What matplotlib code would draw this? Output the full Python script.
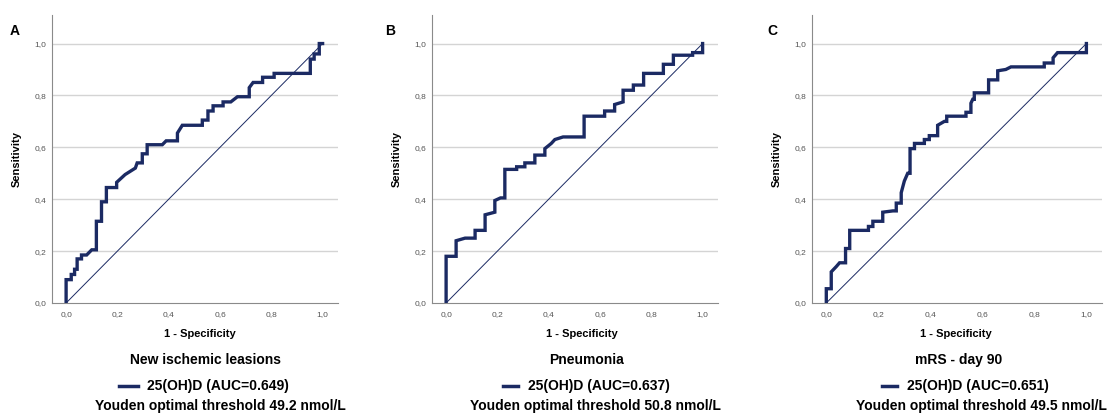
import matplotlib
matplotlib.use("Agg")
import matplotlib.pyplot as plt
from matplotlib.lines import Line2D

plt.rcParams['font.family'] = ['Liberation Sans', 'DejaVu Sans']

# --- data: ROC vertices (1 - specificity, sensitivity) ---
fpr_a = [0, 0, 0.02, 0.02, 0.033, 0.033, 0.043, 0.043, 0.06, 0.06, 0.08, 0.10, 0.118, 0.118,
         0.138, 0.138, 0.157, 0.157, 0.197, 0.197, 0.23, 0.27, 0.277, 0.297, 0.297, 0.316,
         0.316, 0.375, 0.39, 0.434, 0.434, 0.453, 0.531, 0.531, 0.553, 0.553, 0.573, 0.573,
         0.612, 0.612, 0.642, 0.668, 0.714, 0.714, 0.729, 0.766, 0.766, 0.811, 0.811, 0.952,
         0.952, 0.967, 0.967, 0.987, 0.987, 1.0]
tpr_a = [0, 0.09, 0.09, 0.11, 0.11, 0.13, 0.13, 0.17, 0.17, 0.185, 0.185, 0.205, 0.205, 0.315,
         0.315, 0.39, 0.39, 0.445, 0.445, 0.465, 0.495, 0.52, 0.54, 0.54, 0.575, 0.575,
         0.61, 0.61, 0.625, 0.625, 0.655, 0.685, 0.685, 0.705, 0.705, 0.74, 0.74, 0.76,
         0.76, 0.775, 0.775, 0.795, 0.795, 0.83, 0.85, 0.85, 0.87, 0.87, 0.885, 0.885,
         0.94, 0.94, 0.96, 0.96, 1.0, 1.0]

fpr_b = [0, 0, 0.039, 0.039, 0.074, 0.113, 0.113, 0.152, 0.152, 0.19, 0.19, 0.212, 0.229,
         0.229, 0.275, 0.275, 0.307, 0.307, 0.346, 0.346, 0.385, 0.385, 0.41, 0.424, 0.456,
         0.538, 0.538, 0.618, 0.618, 0.657, 0.657, 0.69, 0.69, 0.73, 0.73, 0.77, 0.77,
         0.847, 0.847, 0.886, 0.886, 0.961, 0.961, 1.0, 1.0]
tpr_b = [0, 0.18, 0.18, 0.24, 0.25, 0.25, 0.28, 0.28, 0.34, 0.35, 0.395, 0.405, 0.405,
         0.515, 0.515, 0.525, 0.525, 0.54, 0.54, 0.57, 0.57, 0.595, 0.615, 0.63, 0.64,
         0.64, 0.72, 0.72, 0.74, 0.74, 0.765, 0.775, 0.82, 0.82, 0.84, 0.84, 0.885,
         0.885, 0.92, 0.92, 0.955, 0.955, 0.965, 0.965, 1.0]

fpr_c = [0, 0, 0.019, 0.019, 0.038, 0.051, 0.074, 0.074, 0.09, 0.09, 0.162, 0.162, 0.179,
         0.179, 0.217, 0.217, 0.256, 0.269, 0.269, 0.288, 0.288, 0.3, 0.313, 0.322, 0.322,
         0.339, 0.339, 0.377, 0.377, 0.396, 0.396, 0.428, 0.428, 0.454, 0.463, 0.463,
         0.537, 0.537, 0.556, 0.556, 0.563, 0.569, 0.569, 0.624, 0.624, 0.659, 0.659,
         0.69, 0.71, 0.838, 0.838, 0.872, 0.872, 0.889, 1.0, 1.0]
tpr_c = [0, 0.055, 0.055, 0.12, 0.14, 0.155, 0.155, 0.21, 0.21, 0.28, 0.28, 0.295, 0.295,
         0.315, 0.315, 0.35, 0.355, 0.355, 0.385, 0.385, 0.425, 0.47, 0.5, 0.5, 0.595,
         0.595, 0.615, 0.615, 0.63, 0.63, 0.645, 0.645, 0.685, 0.70, 0.70, 0.72,
         0.72, 0.735, 0.735, 0.77, 0.785, 0.785, 0.81, 0.81, 0.86, 0.86, 0.895,
         0.90, 0.91, 0.91, 0.925, 0.925, 0.945, 0.965, 0.965, 1.0]

letters = ['A', 'B', 'C']
outcomes = ['New ischemic leasions', 'Pneumonia', 'mRS - day 90']
aucs = ['0.649', '0.637', '0.651']
thresholds = ['49.2', '50.8', '49.5']
ticks = [0.0, 0.2, 0.4, 0.6, 0.8, 1.0]
tick_labels = ['0,0', '0,2', '0,4', '0,6', '0,8', '1,0']

navy = '#1b2a63'
W, H = 1107, 413

fig = plt.figure(figsize=(W / 100, H / 100), dpi=100)
fig.patch.set_facecolor('white')

# axes boxes in pixels: left, width
boxes = [(52, 286), (432, 286), (812, 290)]
letter_x = [15, 390, 772]
# text centers (pixels) below each panel
spec_x = [200, 582, 956]
title_x = [205, 586, 959]
leg_line = [(119, 138), (503, 518), (882, 897)]
leg_text_x = [147, 528, 907]
youden_x = [220, 595, 981]

curves = [(fpr_a, tpr_a), (fpr_b, tpr_b), (fpr_c, tpr_c)]

for i in range(3):
    left, width = boxes[i]
    ax = fig.add_axes([left / W, 1 - 303 / H, width / W, 288 / H])
    ax.set_xlim(-0.055, 1.06)
    ax.set_ylim(0, 1.11)
    for y in ticks[1:]:
        ax.axhline(y, color='#d4d4d4', lw=1.0, zorder=0)
    ax.plot([0, 1], [0, 1], color=navy, lw=0.7, zorder=2)
    fx, ty = curves[i]
    ax.plot(fx, ty, color=navy, lw=2.4, zorder=3, solid_joinstyle='miter')
    ax.spines['top'].set_visible(False)
    ax.spines['right'].set_visible(False)
    ax.spines['left'].set_color('#8a8a8a')
    ax.spines['bottom'].set_color('#8a8a8a')
    ax.set_xticks(ticks)
    ax.set_xticklabels(tick_labels)
    ax.set_yticks(ticks)
    ax.set_yticklabels(tick_labels)
    ax.tick_params(axis='x', length=0, labelsize=6, labelcolor='#555555', pad=6)
    ax.tick_params(axis='y', length=0, labelsize=6, labelcolor='#555555', pad=4)
    ax.set_ylabel('Sensitivity', fontsize=8, fontweight='bold', labelpad=9)

    fig.text(letter_x[i] / W, 1 - 31 / H, letters[i], fontsize=10,
             fontweight='bold', ha='center', va='center')
    fig.text(spec_x[i] / W, 1 - 334 / H, '1 - Specificity', fontsize=8,
             fontweight='bold', ha='center', va='center')
    fig.text(title_x[i] / W, 1 - 360 / H, outcomes[i], fontsize=10,
             fontweight='bold', ha='center', va='center')
    x0, x1 = leg_line[i]
    fig.add_artist(Line2D([x0 / W, x1 / W], [1 - 386 / H, 1 - 386 / H],
                          color=navy, lw=2.5, transform=fig.transFigure))
    fig.text(leg_text_x[i] / W, 1 - 386 / H, '25(OH)D (AUC=' + aucs[i] + ')',
             fontsize=10, fontweight='bold', ha='left', va='center')
    fig.text(youden_x[i] / W, 1 - 406 / H,
             'Youden optimal threshold ' + thresholds[i] + ' nmol/L',
             fontsize=10, fontweight='bold', ha='center', va='center')

fig.savefig('out.png', dpi=100)
